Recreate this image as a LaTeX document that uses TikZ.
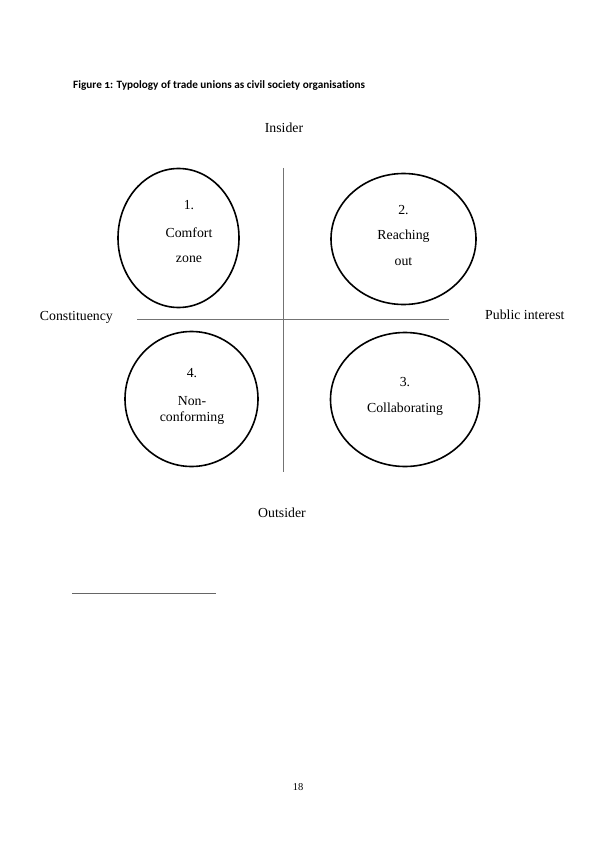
\documentclass[tikz,border=0pt]{standalone}
\usepackage{fontspec}
\setmainfont{Liberation Serif}
\newfontfamily\titlefont[Numbers=OldStyle, Ligatures=NoCommon]{Carlito}
\usetikzlibrary{shapes.geometric, positioning}

\begin{document}
\begin{tikzpicture}[
    x=1pt, y=-1pt,
    font=\fontsize{13.8}{16}\selectfont,
    ring/.style={ellipse, draw=black, line width=1.6pt, inner sep=0pt},
    ringtext/.style={align=center, inner sep=0pt},
    axis/.style={draw=black!55, line width=1pt},
    tag/.style={inner sep=0pt},
    pagetext/.style={inner sep=0pt, font=\fontsize{10.5}{12}\selectfont}
]
\fill[white] (0,0) rectangle (596,842);

% Title
\node[tag, anchor=base west, font=\titlefont\bfseries\fontsize{11.2}{13}\selectfont] (title) at (73,88.5) {Figure 1: Typology of trade unions as civil society organisations};

% Axes
\coordinate (top) at (283.5,168);
\coordinate (bot) at (283.5,472);
\coordinate (lft) at (137,319);
\coordinate (rgt) at (449,319);
\draw[axis] (top) -- (bot);
\draw[axis] (lft) -- (rgt);

\node[tag, anchor=base] (ins) at (284,132.5) {Insider};
\node[tag, anchor=base] (outs) at (282,517.5) {Outsider};
\node[tag, anchor=base east] (con) at (113,320) {Constituency};
\node[tag, anchor=base west] (pub) at (485,319) {Public interest};

% Quadrants
\node[ring, minimum width=121pt, minimum height=139pt] (c1) at (178.5,238) {};
\node[ring, minimum width=145pt, minimum height=131pt] (c2) at (403.5,239) {};
\node[ring, minimum width=149pt, minimum height=134pt] (c3) at (405,399.5) {};
\node[ring, minimum width=133pt, minimum height=135pt] (c4) at (191.5,399) {};

\node[ringtext] (t1) at (189,232) {1.\\[12pt]Comfort\\[9pt]zone};
\node[ringtext] (t2) at (403.5,235) {2.\\[9pt]Reaching\\[10pt]out};
\node[ringtext] (t3) at (405,396.5) {3.\\[10pt]Collaborating};
\node[ringtext] (t4) at (192,396) {4.\\[12pt]Non-\\conforming};

% Footnote rule and page number
\coordinate (fnl) at (72,593);
\coordinate (fnr) at (216,593);
\draw[black!60, line width=0.8pt] (fnl) -- (fnr);
\node[pagetext] (pg) at (298,787) {18};

\end{tikzpicture}
\end{document}
